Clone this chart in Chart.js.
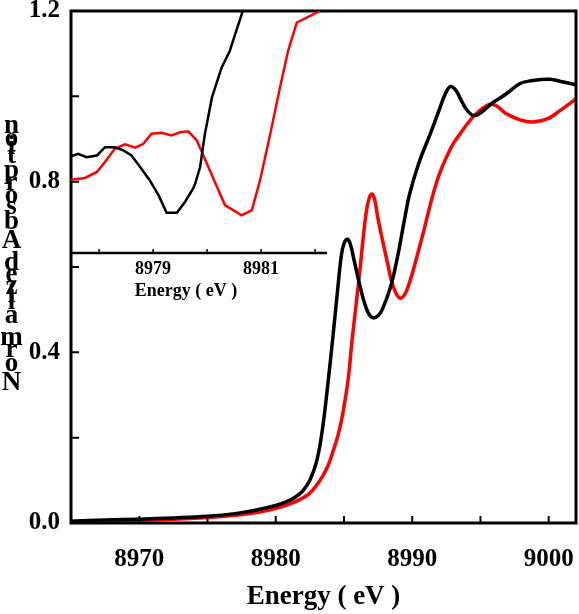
<!DOCTYPE html>
<html>
<head>
<meta charset="utf-8">
<title>Normalized Absorption</title>
<script src="https://cdn.jsdelivr.net/npm/chart.js@4.4.0/dist/chart.umd.min.js"></script>
<style>
  html, body { margin: 0; padding: 0; background: #fff; }
  #wrap { position: relative; width: 579px; height: 614px; }
  #wrap canvas { position: absolute; left: 0; top: 0; }
</style>
</head>
<body>
<div id="wrap">
  <canvas id="main" width="579" height="614"></canvas>
  <canvas id="inset" width="579" height="320"></canvas>
</div>
<script>
// main spectra (eV, normalized absorption)
const energyBlack = [8965.0, 8967.5, 8970.0, 8972.5, 8975.0, 8977.0, 8978.5, 8980.0, 8980.8, 8981.5,
  8982.0, 8982.5, 8983.0, 8983.4, 8983.8, 8984.2, 8984.5, 8984.8, 8985.0, 8985.27,
  8985.5, 8985.7, 8986.2, 8986.7, 8987.1, 8987.5, 8987.8, 8988.4, 8988.9, 8989.4,
  8989.8, 8990.5, 8991.3, 8992.0, 8992.4, 8992.8, 8993.2, 8993.6, 8994.0, 8994.5,
  8995.0, 8995.9, 8996.9, 8997.9, 8998.8, 9000.1, 9001.0, 9002.0];
const absBlack = [0.004, 0.007, 0.009, 0.012, 0.016, 0.022, 0.030, 0.041, 0.050, 0.062,
  0.076, 0.100, 0.145, 0.215, 0.320, 0.440, 0.535, 0.625, 0.655, 0.665,
  0.650, 0.622, 0.552, 0.498, 0.481, 0.486, 0.500, 0.552, 0.620, 0.705,
  0.770, 0.845, 0.910, 0.970, 1.004, 1.023, 1.014, 0.990, 0.968, 0.955,
  0.961, 0.985, 1.006, 1.030, 1.037, 1.040, 1.034, 1.027];

const energyRed = [8965.0, 8967.5, 8970.0, 8972.5, 8975.0, 8977.0, 8979.0, 8980.8, 8982.3, 8983.2,
  8983.8, 8984.2, 8984.6, 8984.9, 8985.3, 8985.6, 8986.1, 8986.6, 8986.85, 8987.05,
  8987.25, 8987.5, 8988.2, 8988.6, 8989.1, 8989.6, 8990.6, 8991.8, 8992.8, 8993.5,
  8994.5, 8995.5, 8996.1, 8996.9, 8997.9, 8998.8, 8999.9, 9000.8, 9002.0];
const absRed = [0.003, 0.005, 0.007, 0.009, 0.013, 0.018, 0.027, 0.042, 0.065, 0.098,
  0.132, 0.168, 0.210, 0.254, 0.335, 0.430, 0.572, 0.722, 0.762, 0.771,
  0.758, 0.712, 0.608, 0.555, 0.527, 0.545, 0.655, 0.800, 0.877, 0.912,
  0.953, 0.979, 0.979, 0.959, 0.945, 0.940, 0.947, 0.966, 0.994];

// inset: pre-edge region (relative units)
const insetEnergyBlack = [8977.48, 8977.61, 8977.77, 8977.96, 8978.11, 8978.29, 8978.45, 8978.60, 8978.76, 8978.94,
  8979.10, 8979.25, 8979.44, 8979.59, 8979.74, 8979.78, 8979.87, 8979.96, 8980.09, 8980.27,
  8980.42, 8980.52, 8980.66];
const insetBlack = [0.399, 0.410, 0.396, 0.403, 0.437, 0.437, 0.424, 0.403, 0.355, 0.300,
  0.239, 0.166, 0.166, 0.211, 0.266, 0.287, 0.355, 0.493, 0.643, 0.767,
  0.835, 0.904, 1.000];

const insetEnergyRed = [8977.48, 8977.74, 8977.96, 8978.11, 8978.29, 8978.48, 8978.67, 8978.82, 8978.97, 8979.16,
  8979.34, 8979.50, 8979.65, 8979.81, 8980.05, 8980.33, 8980.64, 8980.83, 8980.98, 8981.17,
  8981.35, 8981.50, 8981.66, 8982.09];
const insetRed = [0.303, 0.310, 0.335, 0.376, 0.431, 0.449, 0.435, 0.451, 0.493, 0.497,
  0.486, 0.499, 0.503, 0.465, 0.342, 0.198, 0.156, 0.177, 0.300, 0.493,
  0.684, 0.835, 0.952, 1.000];

// tick labels
const xTickLabels = [8970, 8980, 8990, 9000];
const yTickLabels = ['0.0', '0.4', '0.8', '1.2'];
const insetTickLabels = [8979, 8981];
const yTitle = 'Normalized Absorption';

const SERIF = '"Liberation Serif", "Times New Roman", serif';

function pairs(xs, ys) {
    return xs.map((x, i) => ({ x: x, y: ys[i] }));
}

// frame + inward tick marks
const frameTicks = {
    id: 'frameTicks',
    afterDraw(chart) {
        const { ctx, chartArea: a, scales } = chart;
        ctx.save();
        ctx.strokeStyle = '#000';
        ctx.lineWidth = 2;
        ctx.beginPath();
        scales.x.ticks.forEach(t => {
            const px = scales.x.getPixelForValue(t.value);
            ctx.moveTo(px, a.bottom);
            ctx.lineTo(px, a.bottom - 7);
        });
        scales.y.ticks.forEach(t => {
            const py = scales.y.getPixelForValue(t.value);
            ctx.moveTo(a.left, py);
            ctx.lineTo(a.left + 8, py);
        });
        ctx.stroke();
        ctx.lineWidth = 3;
        ctx.strokeRect(a.left, a.top, a.right - a.left, a.bottom - a.top);
        ctx.restore();
    }
};

// y title: upright glyphs stacked bottom to top
const stackedTitle = {
    id: 'stackedTitle',
    afterDraw(chart) {
        const ctx = chart.ctx;
        ctx.save();
        ctx.font = 'bold 27px ' + SERIF;
        ctx.fillStyle = '#000';
        ctx.textAlign = 'center';
        ctx.textBaseline = 'alphabetic';
        let y = 390;
        for (const ch of yTitle) {
            if (ch !== ' ') ctx.fillText(ch, 11.5, y);
            y -= ctx.measureText(ch).width;
        }
        ctx.restore();
    }
};

new Chart(document.getElementById('main'), {
    type: 'line',
    data: {
        datasets: [{
            label: 'black',
            data: pairs(energyBlack, absBlack),
            borderColor: '#000000',
            borderWidth: 3.5,
            pointRadius: 0,
            tension: 0.4
        }, {
            label: 'red',
            data: pairs(energyRed, absRed),
            borderColor: '#ff0000',
            borderWidth: 3.5,
            pointRadius: 0,
            tension: 0.4
        }]
    },
    options: {
        responsive: false,
        animation: false,
        layout: { padding: { left: 0, right: 3, top: 11, bottom: 0 } },
        plugins: { legend: { display: false }, tooltip: { enabled: false } },
        scales: {
            x: {
                type: 'linear',
                min: 8965,
                max: 9002,
                grid: { display: false, drawTicks: false },
                border: { display: false },
                ticks: {
                    stepSize: 5,
                    includeBounds: false,
                    autoSkip: false,
                    maxRotation: 0,
                    padding: 22,
                    color: '#000',
                    font: { family: SERIF, size: 25, weight: 'bold' },
                    callback: v => xTickLabels.includes(v) ? String(v) : ''
                },
                title: {
                    display: true,
                    text: 'Energy ( eV )',
                    color: '#000',
                    font: { family: SERIF, size: 27, weight: 'bold' },
                    padding: { top: 0, bottom: 1 }
                },
                afterFit: s => { s.height = 614 - 523; s.paddingLeft = 0; s.paddingRight = 0; }
            },
            y: {
                min: 0,
                max: 1.2,
                grid: { display: false, drawTicks: false },
                border: { display: false },
                ticks: {
                    stepSize: 0.2,
                    padding: 11,
                    color: '#000',
                    font: { family: SERIF, size: 25, weight: 'bold' },
                    callback: v => {
                        const s = v.toFixed(1);
                        return yTickLabels.includes(s) ? s : '';
                    }
                },
                afterFit: s => { s.width = 71; s.paddingTop = 0; s.paddingBottom = 0; }
            }
        }
    },
    plugins: [frameTicks, stackedTitle]
});

// inset axis line, ticks and its own title
const insetAxis = {
    id: 'insetAxis',
    afterDraw(chart) {
        const { ctx, chartArea: a, scales } = chart;
        ctx.save();
        ctx.strokeStyle = '#000';
        ctx.lineWidth = 1.5;
        ctx.beginPath();
        scales.x.ticks.forEach(t => {
            const px = scales.x.getPixelForValue(t.value);
            ctx.moveTo(px, a.bottom);
            ctx.lineTo(px, a.bottom - 4);
        });
        ctx.stroke();
        ctx.lineWidth = 2.5;
        ctx.beginPath();
        ctx.moveTo(a.left, a.bottom);
        ctx.lineTo(a.right, a.bottom);
        ctx.stroke();
        ctx.font = 'bold 18px ' + SERIF;
        ctx.fillStyle = '#000';
        ctx.textAlign = 'center';
        ctx.textBaseline = 'alphabetic';
        ctx.fillText('Energy ( eV )', 186, 296);
        ctx.restore();
    }
};

new Chart(document.getElementById('inset'), {
    type: 'line',
    data: {
        datasets: [{
            label: 'black',
            data: pairs(insetEnergyBlack, insetBlack),
            borderColor: '#000000',
            borderWidth: 2.5,
            pointRadius: 0,
            tension: 0
        }, {
            label: 'red',
            data: pairs(insetEnergyRed, insetRed),
            borderColor: '#ff0000',
            borderWidth: 2.5,
            pointRadius: 0,
            tension: 0
        }]
    },
    options: {
        responsive: false,
        animation: false,
        layout: { padding: { left: 71, right: 252, top: 11, bottom: 0 } },
        plugins: { legend: { display: false }, tooltip: { enabled: false } },
        scales: {
            x: {
                type: 'linear',
                min: 8977.48,
                max: 8982.22,
                grid: { display: false, drawTicks: false },
                border: { display: false },
                ticks: {
                    stepSize: 1,
                    includeBounds: false,
                    autoSkip: false,
                    maxRotation: 0,
                    padding: 6,
                    color: '#000',
                    font: { family: SERIF, size: 18, weight: 'bold' },
                    callback: v => insetTickLabels.includes(v) ? String(v) : ''
                },
                afterFit: s => { s.height = 320 - 253; s.paddingLeft = 0; s.paddingRight = 0; }
            },
            y: { display: false, min: 0, max: 1 }
        }
    },
    plugins: [insetAxis]
});
</script>
</body>
</html>
